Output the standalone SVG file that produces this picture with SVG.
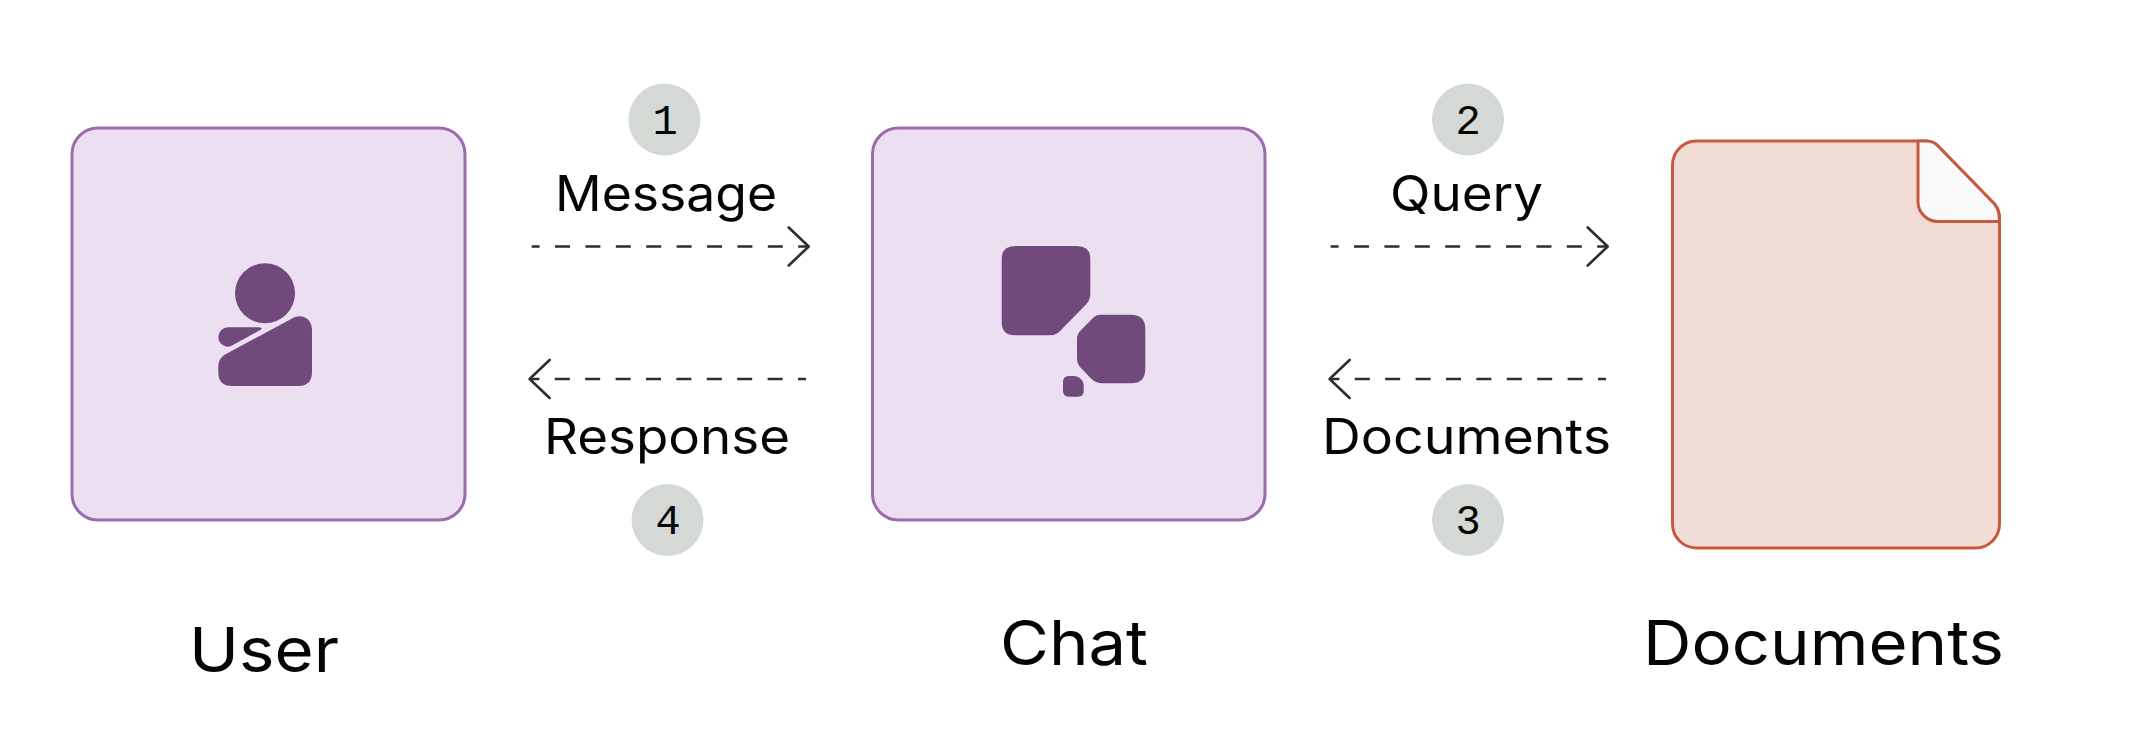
<svg xmlns="http://www.w3.org/2000/svg" width="2134" height="744" viewBox="0 0 2134 744">
  <style>
    .box { fill: #EDDFF2; stroke: #9B6BAE; stroke-width: 3; }
    .icon { fill: #6F4A7B; }
    .doc { fill: #F2DCD6; stroke: #C65A3E; stroke-width: 3; stroke-linejoin: round; }
    .fold { fill: #FAFAFA; stroke: #C65A3E; stroke-width: 3; stroke-linejoin: round; }
    .flow { fill: none; stroke: #2E2E2E; stroke-width: 2.6; stroke-dasharray: 15 15.4; stroke-dashoffset: 7; marker-end: url(#head); }
    .badge { fill: #D5D9D5; }
    text { fill: #050505; font-family: "Inter", "Liberation Sans", sans-serif; }
    .label { font-size: 49px; }
    .title { font-size: 62px; }
    .num { font-family: "Liberation Mono", monospace; font-size: 42px; text-anchor: middle; }
  </style>
  <defs>
    <marker id="head" markerUnits="userSpaceOnUse" markerWidth="30" markerHeight="46" refX="24" refY="23" orient="auto" viewBox="0 0 30 46">
      <path d="M4 4 L24 23 L4 42" fill="none" stroke="#2E2E2E" stroke-width="2.6" stroke-linecap="round" stroke-linejoin="round"/>
    </marker>
  </defs>
  <rect width="2134" height="744" fill="#FFFFFF"/>

  <g id="connectors">
    <line class="flow" x1="531.6" y1="246.5" x2="808.7" y2="246.5"/>
    <line class="flow" x1="806" y1="379" x2="529.6" y2="379"/>
    <line class="flow" x1="1330.6" y1="246.5" x2="1607.7" y2="246.5"/>
    <line class="flow" x1="1606" y1="379" x2="1329.6" y2="379"/>
  </g>

  <g id="user">
    <rect class="box" x="72" y="128" width="393" height="392" rx="26"/>
    <circle class="icon" cx="265" cy="293.3" r="30"/>
    <path class="icon" d="M226 354 L292 318.5 C301 313 312 318 312 330 L312 372 Q312 386 298 386 L232 386 Q218.3 386 218.3 372 L218.3 366 Q218.3 358 226 354 Z"/>
    <path class="icon" d="M228 327.3 L259 327.3 Q263 327.8 261 329.5 L233 345 Q230 346.7 228 346.7 A9.7 9.7 0 0 1 228 327.3 Z"/>
    <text class="title" x="189" y="672" textLength="150" lengthAdjust="spacingAndGlyphs">User</text>
  </g>

  <g id="chat">
    <rect class="box" x="872.5" y="128" width="392.5" height="392" rx="26"/>
    <path class="icon" d="M1015 246 L1077 246 Q1090.3 246 1090.3 259 L1090.3 294 Q1090.3 300 1086 304.5 L1062 329 Q1057 335.3 1050 335.3 L1015 335.3 Q1001.7 335.3 1001.7 322 L1001.7 259 Q1001.7 246 1015 246 Z"/>
    <path class="icon" d="M1101 314.7 L1131 314.7 Q1145.3 314.7 1145.3 329 L1145.3 369 Q1145.3 383.3 1131 383.3 L1102 383.3 Q1096 383.3 1091 378.5 L1080 367 Q1077 363.5 1077 358 L1077 339 Q1077 334 1081 330 L1091 320 Q1095 314.7 1101 314.7 Z"/>
    <path class="icon" d="M1069 376 L1074 376 Q1078 376 1081 379 Q1083.7 382 1083.7 385 L1083.7 391 Q1083.7 396.7 1078 396.7 L1069 396.7 Q1063 396.7 1063 391 L1063 382 Q1063 376 1069 376 Z"/>
    <text class="title" x="1000" y="665" textLength="148" lengthAdjust="spacingAndGlyphs">Chat</text>
  </g>

  <g id="documents">
    <path class="doc" d="M1696 141 L1926 141 Q1934 141 1939 147 L1994.5 204 Q1999.5 210 1999.5 218 L1999.5 524 A24 24 0 0 1 1975.5 548 L1696 548 A24 24 0 0 1 1672.5 524 L1672.5 165 A24 24 0 0 1 1696 141 Z"/>
    <path class="fold" d="M1918 141 L1926 141 Q1934 141 1939 147 L1994.5 204 Q1999.5 210 1999.5 221.5 L1938 221.5 A20 20 0 0 1 1918 201.5 Z"/>
    <text class="title" x="1643" y="665" textLength="361" lengthAdjust="spacingAndGlyphs">Documents</text>
  </g>

  <g id="step-1">
    <circle class="badge" cx="664.5" cy="119.6" r="36"/>
    <text class="num" x="665" y="134">1</text>
    <text class="label" x="555" y="211" textLength="222" lengthAdjust="spacingAndGlyphs">Message</text>
  </g>
  <g id="step-2">
    <circle class="badge" cx="1468" cy="119.6" r="36"/>
    <text class="num" x="1468" y="134">2</text>
    <text class="label" x="1390" y="211" textLength="153" lengthAdjust="spacingAndGlyphs">Query</text>
  </g>
  <g id="step-3">
    <circle class="badge" cx="1468" cy="520" r="36"/>
    <text class="num" x="1468" y="534">3</text>
    <text class="label" x="1322" y="454" textLength="289" lengthAdjust="spacingAndGlyphs">Documents</text>
  </g>
  <g id="step-4">
    <circle class="badge" cx="667.5" cy="520" r="36"/>
    <text class="num" x="668" y="534">4</text>
    <text class="label" x="544" y="454" textLength="246" lengthAdjust="spacingAndGlyphs">Response</text>
  </g>
</svg>
